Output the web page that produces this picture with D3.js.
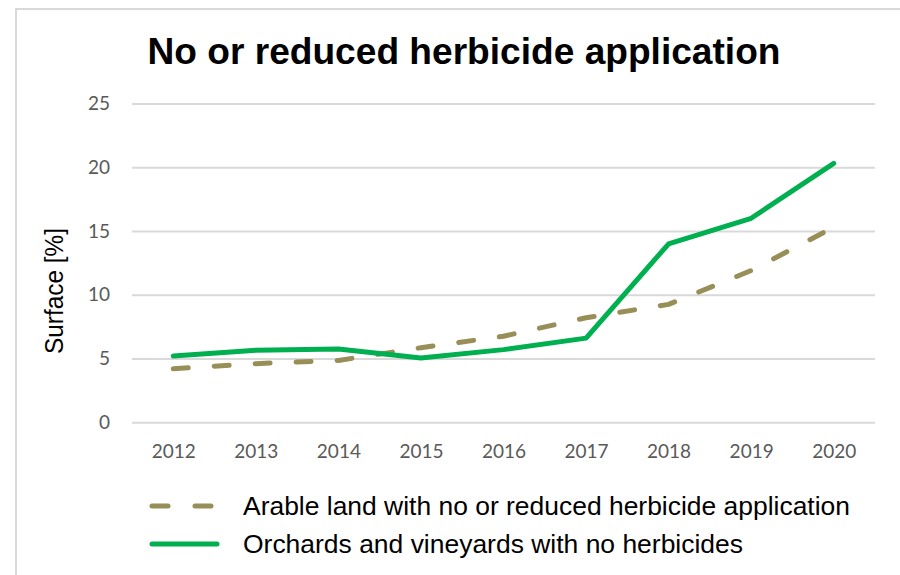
<!DOCTYPE html>
<html>
<head>
<meta charset="utf-8">
<script src="https://cdn.jsdelivr.net/npm/d3@7"></script>
<style>
  body { margin: 0; background: #fff; }
</style>
</head>
<body>
<svg id="chart" width="900" height="575"></svg>
<script>
let years = ["2012", "2013", "2014", "2015", "2016", "2017", "2018", "2019", "2020"];
let arable = [4.2, 4.6, 4.85, 5.85, 6.75, 8.2, 9.25, 11.9, 15.3];
let orchards = [5.2, 5.65, 5.75, 5.05, 5.7, 6.6, 14.0, 16.0, 20.3];
let yTicks = [0, 5, 10, 15, 20, 25];
let seriesNames = ["Arable land with no or reduced herbicide application", "Orchards and vineyards with no herbicides"];

let colors = ["#988e57", "#00b050"];

let svg = d3.select("#chart");

// outer frame (only top and left edges visible)
svg.append("rect")
    .attr("x", 16).attr("y", 9)
    .attr("width", 920).attr("height", 620)
    .attr("fill", "none")
    .attr("stroke", "#d9d9d9")
    .attr("stroke-width", 2);

let plotLeft = 132, plotRight = 875, plotTop = 103.5, plotBottom = 422.3;

let x = d3.scalePoint().domain(years).range([plotLeft, plotRight]).padding(0.5);
let y = d3.scaleLinear().domain([0, 25]).range([plotBottom, plotTop]);

// title
svg.append("text")
    .attr("x", 464).attr("y", 64)
    .attr("text-anchor", "middle")
    .attr("font-family", "Liberation Sans, Arial, sans-serif")
    .attr("font-weight", "bold")
    .attr("font-size", 36)
    .attr("textLength", 633)
    .attr("lengthAdjust", "spacingAndGlyphs")
    .text("No or reduced herbicide application");

// grid + y axis
let yAxis = d3.axisLeft(y).tickValues(yTicks).tickSize(-(plotRight - plotLeft)).tickPadding(22);
let gy = svg.append("g")
    .attr("transform", "translate(" + plotLeft + ",0)")
    .call(yAxis);
gy.select(".domain").remove();
gy.selectAll(".tick line").attr("stroke", "#d9d9d9").attr("stroke-width", 2);
gy.selectAll(".tick text")
    .attr("fill", "#595959")
    .attr("font-family", "Lato, Carlito, sans-serif")
    .attr("font-size", 19);

// x axis
let xAxis = d3.axisBottom(x).tickSize(0).tickPadding(22);
let gx = svg.append("g")
    .attr("transform", "translate(0," + plotBottom + ")")
    .call(xAxis);
gx.select(".domain").remove();
gx.selectAll(".tick text")
    .attr("fill", "#595959")
    .attr("font-family", "Lato, Carlito, sans-serif")
    .attr("font-size", 19);

// y label
svg.append("text")
    .attr("transform", "translate(63,291) rotate(-90)")
    .attr("text-anchor", "middle")
    .attr("font-family", "Liberation Sans, Arial, sans-serif")
    .attr("font-size", 25)
    .attr("textLength", 126)
    .attr("lengthAdjust", "spacingAndGlyphs")
    .text("Surface [%]");

let line = d3.line()
    .x((d, i) => x(years[i]))
    .y(d => y(d));

svg.append("path")
    .datum(arable)
    .attr("fill", "none")
    .attr("stroke", colors[0])
    .attr("stroke-width", 5)
    .attr("stroke-linecap", "round")
    .attr("stroke-linejoin", "round")
    .attr("stroke-dasharray", "15,26")
    .attr("d", line);

svg.append("path")
    .datum(orchards)
    .attr("fill", "none")
    .attr("stroke", colors[1])
    .attr("stroke-width", 5)
    .attr("stroke-linecap", "round")
    .attr("stroke-linejoin", "round")
    .attr("d", line);

// legend
let legendWidths = [607, 500];
let legend = svg.append("g");
seriesNames.forEach((name, i) => {
    let ly = 506 + i * 38;
    legend.append("line")
        .attr("x1", 152).attr("x2", 217)
        .attr("y1", ly).attr("y2", ly)
        .attr("stroke", colors[i])
        .attr("stroke-width", 5)
        .attr("stroke-linecap", "round")
        .attr("stroke-dasharray", i === 0 ? "16,27" : null);
    legend.append("text")
        .attr("x", 243).attr("y", ly + 9)
        .attr("font-family", "Liberation Sans, Arial, sans-serif")
        .attr("font-size", 26)
        .attr("textLength", legendWidths[i])
        .attr("lengthAdjust", "spacingAndGlyphs")
        .text(name);
});
</script>
</body>
</html>
